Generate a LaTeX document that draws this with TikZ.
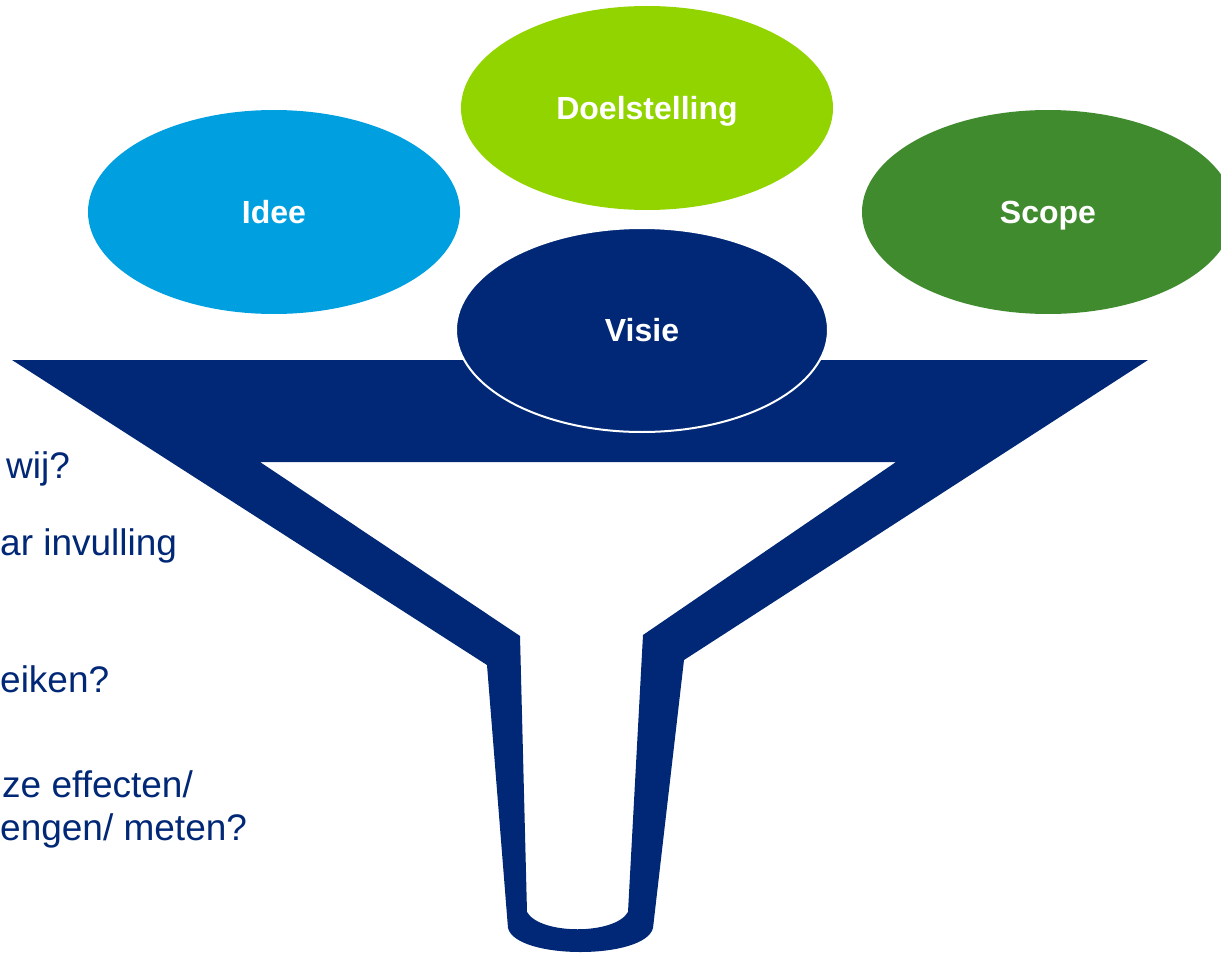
\documentclass[tikz,border=0pt]{standalone}
\usepackage{fontspec}
\setmainfont{Liberation Sans}
\usepackage{tikz}
\usepackage{xcolor}
\usetikzlibrary{shapes.geometric}

\definecolor{funnelblue}{RGB}{0,40,118}
\definecolor{ideeblue}{RGB}{0,160,224}
\definecolor{doelgreen}{RGB}{146,212,0}
\definecolor{scopegreen}{RGB}{63,139,46}

\tikzset{
  bubble/.style={ellipse, minimum width=372pt, minimum height=204pt, inner sep=0pt,
    text depth=0pt, text=white, font=\fontsize{32}{37}\selectfont\bfseries},
  qtext/.style={anchor=base west, inner sep=0pt, text=funnelblue,
    font=\fontsize{37}{44}\selectfont}
}

\begin{document}
\begin{tikzpicture}[x=1pt,y=-1pt]
\fill[white] (0,0) rectangle (1221,955);
\useasboundingbox (0,0) rectangle (1221,955);

\node[bubble, fill=ideeblue] (idee) at (274,212) {Idee};
\node[bubble, fill=doelgreen] (doel) at (647,108) {Doelstelling};
\node[bubble, fill=scopegreen] (scope) at (1048,212) {Scope};

% funnel
\fill[funnelblue, even odd rule]
  (12,360) -- (1148,360) -- (684,660) -- (653,928)
  .. controls (645,960) and (516,960) .. (508,928) -- (487,665) -- cycle
  (260,462) -- (896,462) -- (643,635) -- (628,912)
  .. controls (615,935) and (540,935) .. (527,912) -- (520,636) -- cycle;

\node[bubble, fill=funnelblue, draw=white, line width=2pt] (visie) at (642,330) {Visie};

% questions
\node[qtext] (q1) at (6,478) {wij?};
\node[qtext] (q2) at (0,555) {ar invulling};
\node[qtext] (q3) at (0,692) {eiken?};
\node[qtext] (q4) at (2,797) {ze effecten/};
\node[qtext] (q5) at (0,840) {engen/ meten?};
\end{tikzpicture}
\end{document}
